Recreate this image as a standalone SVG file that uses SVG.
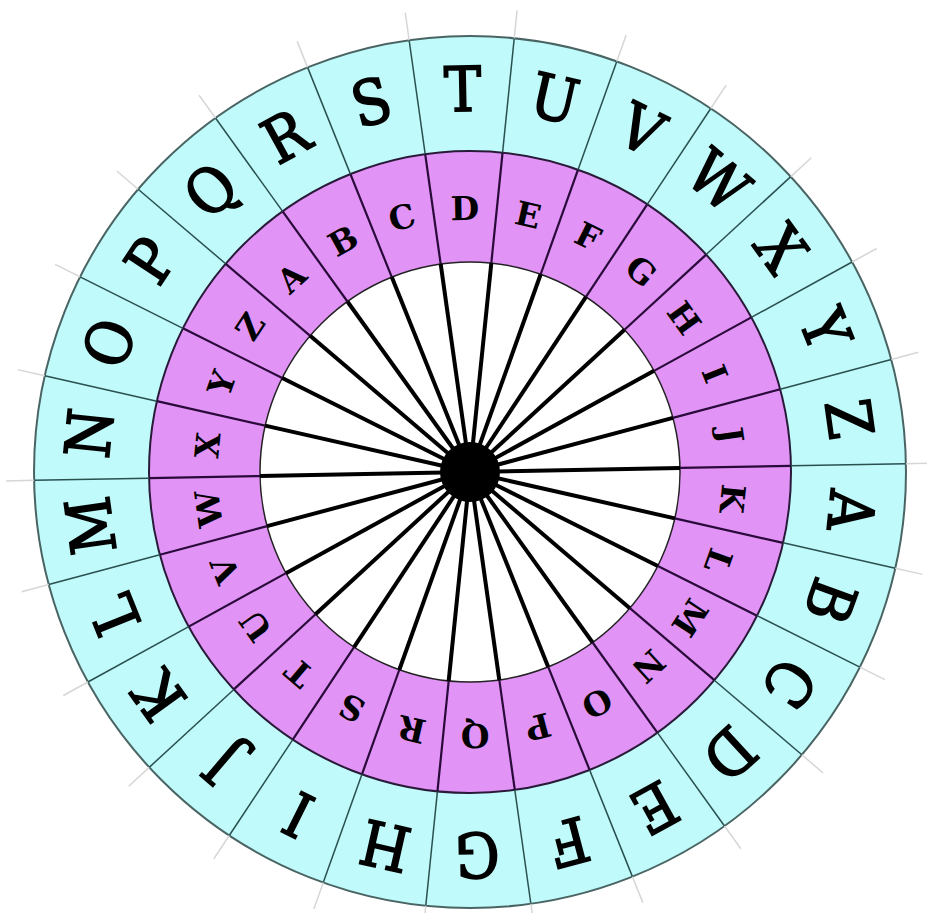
<svg xmlns="http://www.w3.org/2000/svg" xmlns:xlink="http://www.w3.org/1999/xlink" width="927" height="913" viewBox="0 0 927 913">
<style>
.o{font-family:"DejaVu Serif","Liberation Serif",serif;font-stretch:condensed;font-weight:normal;font-size:62px;fill:#000;stroke:#000;stroke-width:1.6px;text-anchor:middle}
.i{font-family:"DejaVu Serif","Liberation Serif",serif;font-weight:bold;font-size:33px;fill:#000;text-anchor:middle}
</style>
<defs>
<g id="spoke">
<line x1="0" y1="0" x2="210" y2="0" stroke="#000" stroke-width="4"/>
<line x1="210" y1="0" x2="321" y2="0" stroke="#2a0a3a" stroke-width="2.2"/>
<line x1="321" y1="0" x2="436" y2="0" stroke="#2a5050" stroke-width="1.5"/>
<line x1="436" y1="0" x2="464" y2="0" stroke="#d6d6d6" stroke-width="1.5"/>
</g>
</defs>
<rect width="927" height="913" fill="#fff"/>
<g id="rings" transform="translate(470,472)">
<circle r="436" fill="#c0fafa" stroke="#4a6464" stroke-width="2"/>
<circle r="321" fill="#e194f6" stroke="#2a1a3a" stroke-width="2"/>
<circle r="210" fill="#fff" stroke="#222" stroke-width="1.5"/>
</g>
<g id="connectors" transform="translate(470,472)">
<use xlink:href="#spoke" transform="rotate(-1.1)"/>
<use xlink:href="#spoke" transform="rotate(12.746)"/>
<use xlink:href="#spoke" transform="rotate(26.592)"/>
<use xlink:href="#spoke" transform="rotate(40.438)"/>
<use xlink:href="#spoke" transform="rotate(54.285)"/>
<use xlink:href="#spoke" transform="rotate(68.131)"/>
<use xlink:href="#spoke" transform="rotate(81.977)"/>
<use xlink:href="#spoke" transform="rotate(95.823)"/>
<use xlink:href="#spoke" transform="rotate(109.669)"/>
<use xlink:href="#spoke" transform="rotate(123.515)"/>
<use xlink:href="#spoke" transform="rotate(137.362)"/>
<use xlink:href="#spoke" transform="rotate(151.208)"/>
<use xlink:href="#spoke" transform="rotate(165.054)"/>
<use xlink:href="#spoke" transform="rotate(178.9)"/>
<use xlink:href="#spoke" transform="rotate(192.746)"/>
<use xlink:href="#spoke" transform="rotate(206.592)"/>
<use xlink:href="#spoke" transform="rotate(220.438)"/>
<use xlink:href="#spoke" transform="rotate(234.285)"/>
<use xlink:href="#spoke" transform="rotate(248.131)"/>
<use xlink:href="#spoke" transform="rotate(261.977)"/>
<use xlink:href="#spoke" transform="rotate(275.823)"/>
<use xlink:href="#spoke" transform="rotate(289.669)"/>
<use xlink:href="#spoke" transform="rotate(303.515)"/>
<use xlink:href="#spoke" transform="rotate(317.362)"/>
<use xlink:href="#spoke" transform="rotate(331.208)"/>
<use xlink:href="#spoke" transform="rotate(345.054)"/>
<circle r="30" fill="#000"/>
</g>
<g id="outer" transform="translate(470,472)">
<g id="o-T" transform="rotate(-1.1)"><text class="o" y="-361">T</text></g>
<g id="o-U" transform="rotate(12.746)"><text class="o" y="-361">U</text></g>
<g id="o-V" transform="rotate(26.592)"><text class="o" y="-361">V</text></g>
<g id="o-W" transform="rotate(40.438)"><text class="o" y="-361">W</text></g>
<g id="o-X" transform="rotate(54.285)"><text class="o" y="-361">X</text></g>
<g id="o-Y" transform="rotate(68.131)"><text class="o" y="-361">Y</text></g>
<g id="o-Z" transform="rotate(81.977)"><text class="o" y="-361">Z</text></g>
<g id="o-A" transform="rotate(95.823)"><text class="o" y="-361">A</text></g>
<g id="o-B" transform="rotate(109.669)"><text class="o" y="-361">B</text></g>
<g id="o-C" transform="rotate(123.515)"><text class="o" y="-361">C</text></g>
<g id="o-D" transform="rotate(137.362)"><text class="o" y="-361">D</text></g>
<g id="o-E" transform="rotate(151.208)"><text class="o" y="-361">E</text></g>
<g id="o-F" transform="rotate(165.054)"><text class="o" y="-361">F</text></g>
<g id="o-G" transform="rotate(178.9)"><text class="o" y="-361">G</text></g>
<g id="o-H" transform="rotate(192.746)"><text class="o" y="-361">H</text></g>
<g id="o-I" transform="rotate(206.592)"><text class="o" y="-361">I</text></g>
<g id="o-J" transform="rotate(220.438)"><text class="o" y="-361">J</text></g>
<g id="o-K" transform="rotate(234.285)"><text class="o" y="-361">K</text></g>
<g id="o-L" transform="rotate(248.131)"><text class="o" y="-361">L</text></g>
<g id="o-M" transform="rotate(261.977)"><text class="o" y="-361">M</text></g>
<g id="o-N" transform="rotate(275.823)"><text class="o" y="-361">N</text></g>
<g id="o-O" transform="rotate(289.669)"><text class="o" y="-361">O</text></g>
<g id="o-P" transform="rotate(303.515)"><text class="o" y="-361">P</text></g>
<g id="o-Q" transform="rotate(317.362)"><text class="o" y="-361">Q</text></g>
<g id="o-R" transform="rotate(331.208)"><text class="o" y="-361">R</text></g>
<g id="o-S" transform="rotate(345.054)"><text class="o" y="-361">S</text></g>
</g>
<g id="inner" transform="translate(470,472)">
<g id="i-D" transform="rotate(-1.1)"><text class="i" y="-252">D</text></g>
<g id="i-E" transform="rotate(12.746)"><text class="i" y="-252">E</text></g>
<g id="i-F" transform="rotate(26.592)"><text class="i" y="-252">F</text></g>
<g id="i-G" transform="rotate(40.438)"><text class="i" y="-252">G</text></g>
<g id="i-H" transform="rotate(54.285)"><text class="i" y="-252">H</text></g>
<g id="i-I" transform="rotate(68.131)"><text class="i" y="-252">I</text></g>
<g id="i-J" transform="rotate(81.977)"><text class="i" y="-252">J</text></g>
<g id="i-K" transform="rotate(95.823)"><text class="i" y="-252">K</text></g>
<g id="i-L" transform="rotate(109.669)"><text class="i" y="-252">L</text></g>
<g id="i-M" transform="rotate(123.515)"><text class="i" y="-252">M</text></g>
<g id="i-N" transform="rotate(137.362)"><text class="i" y="-252">N</text></g>
<g id="i-O" transform="rotate(151.208)"><text class="i" y="-252">O</text></g>
<g id="i-P" transform="rotate(165.054)"><text class="i" y="-252">P</text></g>
<g id="i-Q" transform="rotate(178.9)"><text class="i" y="-252">Q</text></g>
<g id="i-R" transform="rotate(192.746)"><text class="i" y="-252">R</text></g>
<g id="i-S" transform="rotate(206.592)"><text class="i" y="-252">S</text></g>
<g id="i-T" transform="rotate(220.438)"><text class="i" y="-252">T</text></g>
<g id="i-U" transform="rotate(234.285)"><text class="i" y="-252">U</text></g>
<g id="i-V" transform="rotate(248.131)"><text class="i" y="-252">V</text></g>
<g id="i-W" transform="rotate(261.977)"><text class="i" y="-252">W</text></g>
<g id="i-X" transform="rotate(275.823)"><text class="i" y="-252">X</text></g>
<g id="i-Y" transform="rotate(289.669)"><text class="i" y="-252">Y</text></g>
<g id="i-Z" transform="rotate(303.515)"><text class="i" y="-252">Z</text></g>
<g id="i-A" transform="rotate(317.362)"><text class="i" y="-252">A</text></g>
<g id="i-B" transform="rotate(331.208)"><text class="i" y="-252">B</text></g>
<g id="i-C" transform="rotate(345.054)"><text class="i" y="-252">C</text></g>
</g>
</svg>
